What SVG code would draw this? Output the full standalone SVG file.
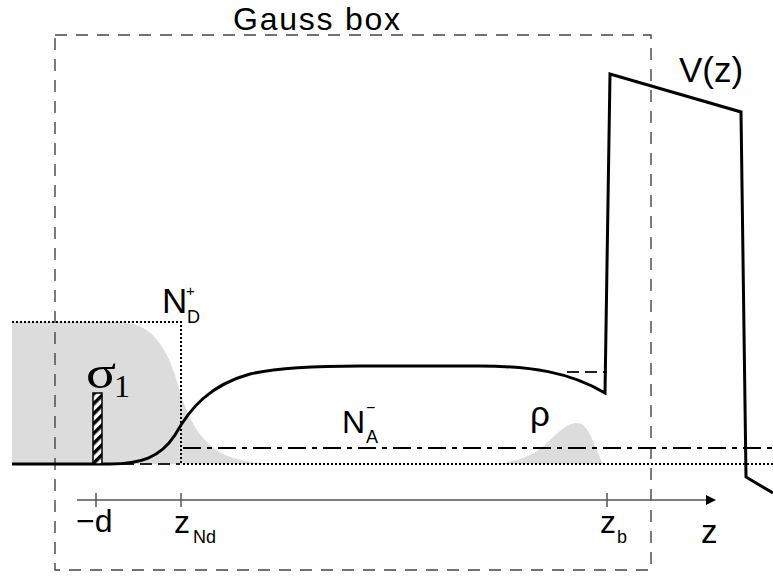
<svg xmlns="http://www.w3.org/2000/svg" width="773" height="576" viewBox="0 0 773 576">
<style>
.lbl{font-family:"Liberation Sans",Arial,sans-serif;fill:#000}
.ser{font-family:"Liberation Serif","Times New Roman",serif;fill:#000}
.box{fill:none;stroke:#444;stroke-width:1.4;stroke-dasharray:12 9}
.thick{fill:none;stroke:#000;stroke-width:3;stroke-linejoin:miter}
.dot{fill:none;stroke:#000;stroke-width:2;stroke-dasharray:2 2}
.dash{fill:none;stroke:#222;stroke-width:1.8;stroke-dasharray:12 6}
.dashdot{fill:none;stroke:#000;stroke-width:2;stroke-dasharray:18 6 5 6}
.gray{fill:#dcdcdc;stroke:none}
.axis{stroke:#555;stroke-width:1.5;fill:none}
</style>
<defs>
<pattern id="hatch" width="7" height="7" patternUnits="userSpaceOnUse" patternTransform="rotate(45)">
<rect x="0" y="0" width="7" height="7" fill="#fff"/>
<rect x="0" y="0" width="3.5" height="7" fill="#000"/>
</pattern>
</defs>
<g id="fills">
<path class="gray" d="M12,322 L118,322 C150,322 165,345 175,375 C185,410 195,440 225,455 C245,463 265,464 288,464 L12,464 Z"/>
<path class="gray" d="M485,464 C510,464 530,458 545,445 C560,430 568,423 577,423 C588,423 592,440 603,464 Z"/>
</g>
<g id="gauss-box">
<rect class="box" x="55" y="35" width="596" height="535"/>
<text class="lbl" x="233" y="30" font-size="32" textLength="167" lengthAdjust="spacing">Gauss box</text>
</g>
<g id="connectors">
<path class="dot" d="M12,322 H181 V464"/>
<path class="dot" d="M183,464 H773"/>
<path class="dashdot" d="M183,448 H773"/>
<path class="dash" d="M104,464 H180"/>
<path class="dash" d="M567,372 H607"/>
<path class="thick" d="M12,464 L110,464 C140,464 160,458 175,435 C190,408 210,385 250,374 C280,367 320,366 360,366 L480,366 C530,366 570,372 605,393 L610,74 L741,112 L746,477 L773,493"/>
</g>
<g id="sigma1">
<rect x="93" y="393" width="9" height="71" fill="url(#hatch)" stroke="#000" stroke-width="1.5"/>
<text class="ser" x="86" y="388" font-size="46" textLength="30" lengthAdjust="spacingAndGlyphs">σ</text>
<text class="ser" x="114" y="397" font-size="32">1</text>
</g>
<g id="ND">
<text class="lbl" x="162" y="313" font-size="35">N</text>
<text class="lbl" x="187" y="323" font-size="18">D</text>
<text class="lbl" x="186" y="296" font-size="15">+</text>
</g>
<g id="NA">
<text class="lbl" x="342" y="433" font-size="32">N</text>
<text class="lbl" x="366" y="443" font-size="18">A</text>
<text class="lbl" x="366" y="413" font-size="16">−</text>
</g>
<g id="rho">
<text class="lbl" x="530" y="426" font-size="35">ρ</text>
</g>
<g id="Vz">
<text class="lbl" x="679" y="82" font-size="35">V(z)</text>
</g>
<g id="axis">
<line class="axis" x1="77" y1="500" x2="707" y2="500"/>
<polygon points="706,495 716,500 706,505" fill="#000"/>
<line class="axis" x1="96" y1="493" x2="96" y2="507"/>
<line class="axis" x1="181" y1="493" x2="181" y2="507"/>
<line class="axis" x1="607" y1="493" x2="607" y2="507"/>
<text class="lbl" x="76" y="532" font-size="32">−d</text>
<text class="lbl" x="174" y="533" font-size="32">z</text>
<text class="lbl" x="193" y="543" font-size="18">Nd</text>
<text class="lbl" x="600" y="533" font-size="32">z</text>
<text class="lbl" x="617" y="543" font-size="18">b</text>
<text class="lbl" x="701" y="543" font-size="33">z</text>
</g>
</svg>
